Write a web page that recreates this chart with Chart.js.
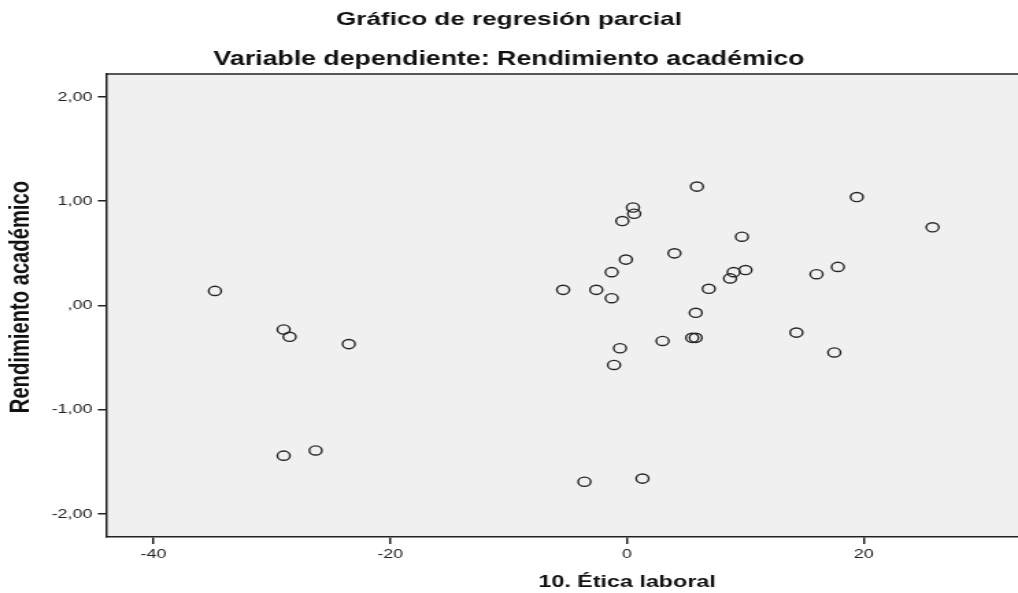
<!DOCTYPE html>
<html>
<head>
<meta charset="utf-8">
<script src="https://cdn.jsdelivr.net/npm/chart.js@4.4.1/dist/chart.umd.min.js"></script>
<style>
html,body{margin:0;padding:0;background:#fff;overflow:hidden;width:1018px;height:593px;}
#wrap{position:absolute;left:0;top:0;width:838px;height:593px;transform:scaleX(1.37);transform-origin:0 0;}
canvas{display:block;}
</style>
</head>
<body>
<div id="wrap"><canvas id="c" width="838" height="593"></canvas></div>
<script>
// ---- data ----
const chartTitle = 'Gráfico de regresión parcial';
const chartSubtitle = 'Variable dependiente: Rendimiento académico';
const xAxisTitle = '10. Ética laboral';
const yAxisTitle = 'Rendimiento académico';

const eticaLaboral = [
  -34.8, -29.0, -28.5, -23.5, -29.0, -26.3,
  -5.4, -2.6, -1.3, -1.3, -0.4, -0.1, 0.5, 0.6, 4.0, 5.9,
  -0.6, -1.1, 3.0, 5.8, 5.5, 5.8, 6.9, 9.7, 8.7, 9.0, 10.0,
  -3.6, 1.3, 14.3, 16.0, 17.8, 17.5, 19.4, 25.8
];
const rendimiento = [
  0.14, -0.23, -0.30, -0.37, -1.44, -1.39,
  0.15, 0.15, 0.32, 0.07, 0.81, 0.44, 0.94, 0.88, 0.50, 1.14,
  -0.41, -0.57, -0.34, -0.07, -0.31, -0.31, 0.16, 0.66, 0.26, 0.32, 0.34,
  -1.69, -1.66, -0.26, 0.30, 0.37, -0.45, 1.04, 0.75
];

const xTickValues = [-40, -20, 0, 20];
const xTickLabels = ['-40', '-20', '0', '20'];
const yTickValues = [-2, -1, 0, 1, 2];
const yTickLabels = ['-2,00', '-1,00', ',00', '1,00', '2,00'];

// ---- chart ----
const points = eticaLaboral.map((x, i) => ({x: x, y: rendimiento[i]}));

const plotBg = {
  id: 'plotBg',
  beforeDraw(chart) {
    const {ctx, chartArea: {left, top, right, bottom}} = chart;
    ctx.save();
    ctx.fillStyle = '#f0f0f0';
    ctx.fillRect(left, top, right - left, bottom - top);
    ctx.strokeStyle = '#222';
    ctx.lineWidth = 1.5;
    ctx.beginPath();
    ctx.moveTo(left, top);
    ctx.lineTo(right, top);
    ctx.stroke();
    ctx.restore();
  }
};

const FONT = "'Liberation Sans', Arial, sans-serif";

new Chart(document.getElementById('c'), {
  type: 'scatter',
  data: {
    datasets: [{
      data: points,
      pointStyle: 'circle',
      pointRadius: 4.6,
      pointHoverRadius: 4.6,
      pointBorderWidth: 1.4,
      pointBorderColor: '#262626',
      pointBackgroundColor: 'rgba(0,0,0,0)'
    }]
  },
  options: {
    responsive: false,
    animation: false,
    devicePixelRatio: 1,
    layout: {autoPadding: false, padding: {left: -95, right: 0, top: 0, bottom: 0}},
    plugins: {
      legend: {display: false},
      tooltip: {enabled: false},
      title: {
        display: true,
        text: chartTitle,
        color: '#111',
        font: {family: FONT, size: 19, weight: 'bold', lineHeight: '22px'},
        padding: {top: 9, bottom: 17}
      },
      subtitle: {
        display: true,
        text: chartSubtitle,
        color: '#111',
        font: {family: FONT, size: 19.5, weight: 'bold', lineHeight: '22px'},
        padding: {top: 1, bottom: 3}
      }
    },
    scales: {
      x: {
        type: 'linear',
        min: -44,
        max: 44,
        afterBuildTicks: (s) => { s.ticks = xTickValues.map(v => ({value: v})); },
        afterFit: (s) => { s.height = 56; },
        border: {display: true, color: '#222', width: 1.5},
        grid: {display: true, drawOnChartArea: false, drawTicks: true, tickLength: 7, color: '#222', lineWidth: 1.5},
        ticks: {
          padding: 3,
          color: '#222',
          font: {family: FONT, size: 13},
          callback: (v) => { const i = xTickValues.indexOf(v); return i >= 0 ? xTickLabels[i] : ''; }
        },
        title: {
          display: true,
          text: xAxisTitle,
          color: '#111',
          font: {family: FONT, size: 17, weight: 'bold', lineHeight: 1.2},
          padding: {top: 0, bottom: 0}
        }
      },
      y: {
        type: 'linear',
        min: -2.22,
        max: 2.22,
        afterBuildTicks: (s) => { s.ticks = yTickValues.map(v => ({value: v})); },
        afterFit: (s) => { s.width = 172.4; },
        border: {display: true, color: '#222', width: 1.5},
        grid: {display: true, drawOnChartArea: false, drawTicks: true, tickLength: 6, color: '#222', lineWidth: 1.5},
        ticks: {
          padding: 4,
          color: '#222',
          font: {family: FONT, size: 13},
          callback: (v) => { const i = yTickValues.indexOf(v); return i >= 0 ? yTickLabels[i] : ''; }
        },
        title: {
          display: true,
          text: '   ' + yAxisTitle,
          color: '#111',
          font: {family: FONT, size: 20.2, weight: 'bold', lineHeight: '22px'},
          padding: {top: 99.3, bottom: 0}
        }
      }
    }
  },
  plugins: [plotBg]
});
</script>
</body>
</html>
